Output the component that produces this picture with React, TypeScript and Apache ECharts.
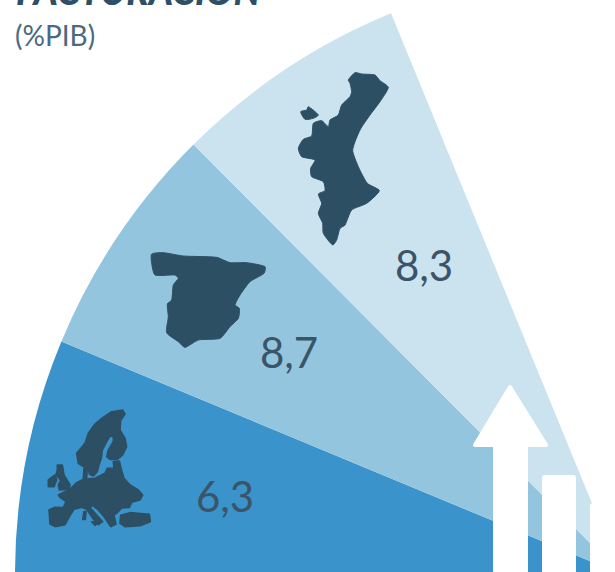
import React, { useEffect, useRef } from "react";
import * as echarts from "echarts";

const regions = ["Europa", "España", "Comunitat Valenciana"];
const valueLabels = ["6,3", "8,7", "8,3"];
const sectorWeights = [1, 1, 1];
const sectorColors = ["#3a93cb", "#93c5df", "#cbe3ef"];
const INK = "#2d4f63";

type Pts = number[][];
const fromZoom = (pts: Pts, ox: number, oy: number) => pts.map(([x, y]) => [ox + x / 3, oy + y / 3]);

const valencia: Pts[] = [
  [[205,60],[225,38],[245,42],[285,45],[300,62],[325,82],[300,125],[270,165],[240,210],[218,270],[235,320],[262,370],[298,392],[260,430],[215,450],[195,495],[180,505],[170,540],[158,555],[130,520],[128,490],[115,460],[125,430],[115,402],[135,392],[130,365],[95,350],[92,325],[105,300],[65,290],[55,265],[70,238],[95,228],[100,190],[125,182],[145,200],[150,180],[175,165],[185,135],[210,110],[215,95],[210,70]],
  [[62,155],[80,150],[85,140],[115,165],[100,175],[75,178]],
];
const spain: Pts[] = [
  [[35,42],[70,38],[130,48],[230,52],[270,68],[320,68],[375,80],[372,100],[330,125],[300,165],[285,195],[298,205],[295,235],[270,260],[240,295],[175,300],[135,322],[115,305],[80,278],[85,230],[82,192],[95,180],[100,135],[115,115],[105,105],[45,105],[35,70]],
];
const europe: Pts[] = [
  [[195,72],[215,55],[245,35],[278,30],[285,42],[272,62],[270,90],[285,115],[290,140],[278,165],[262,178],[240,178],[230,170],[235,150],[250,125],[250,110],[240,108],[230,125],[217,150],[214,175],[207,195],[202,215],[190,228],[178,222],[175,205],[160,200],[145,190],[140,160],[165,130],[175,100]],
  [[162,205],[172,205],[170,235],[160,235]],
  [[85,285],[120,268],[140,248],[160,238],[195,235],[225,220],[232,205],[252,205],[250,185],[268,183],[275,212],[282,235],[300,255],[325,270],[338,285],[330,300],[305,307],[298,322],[275,324],[262,338],[252,345],[258,372],[242,380],[230,362],[222,350],[205,330],[185,314],[182,325],[205,350],[218,365],[205,374],[192,360],[170,328],[155,322],[132,328],[120,347],[105,374],[75,380],[60,372],[57,330],[75,322],[100,323],[108,305],[90,292]],
  [[272,346],[300,338],[358,343],[361,365],[330,377],[285,380],[270,370]],
  [[82,195],[97,195],[102,225],[120,255],[118,268],[88,270],[85,255],[92,240],[78,225],[82,210]],
  [[55,240],[75,225],[80,240],[72,260],[55,260]],
  [[162,335],[168,335],[166,358],[158,358]],
  [[185,365],[205,368],[195,376]],
];

const mapElements = (polys: Pts[], ox: number, oy: number, smooth: number, lineWidth: number) =>
  polys.map((p) => ({
    type: "polygon",
    z: 100,
    silent: true,
    shape: { points: fromZoom(p, ox, oy), smooth },
    style: { fill: INK, stroke: INK, lineWidth, lineJoin: "round" },
  }));

const whiteShape = { fill: "#fff", stroke: "#fff", lineWidth: 4, lineJoin: "round" };

export default function App() {
  const ref = useRef<HTMLDivElement>(null);
  useEffect(() => {
    const chart = echarts.init(ref.current!, undefined, { renderer: "svg" });
    chart.setOption({
      animation: false,
      backgroundColor: "#fff",
      series: [
        {
          type: "pie",
          silent: true,
          center: [621, 574],
          radius: [0, 606],
          startAngle: 180,
          endAngle: 112.3,
          clockwise: true,
          avoidLabelOverlap: false,
          labelLine: { show: false },
          data: regions.map((name, i) => ({
            name,
            value: sectorWeights[i],
            itemStyle: { color: sectorColors[i] },
            label: {
              show: true,
              position: "inside",
              formatter: valueLabels[i],
              fontFamily: "Lato",
              fontSize: 42,
              color: "#3a5468",
            },
          })),
          labelLayout: (p: any) => ({
            x: [225, 289, 424][p.dataIndex],
            y: [496, 352, 265][p.dataIndex],
            align: "center",
            verticalAlign: "middle",
          }),
        },
      ],
      graphic: {
        elements: [
          {
            type: "text", z: 100, x: 16, y: 9, silent: true,
            style: { text: "FACTURACIÓN", fill: "#2d5068", font: "italic 900 37px Lato", textVerticalAlign: "bottom" },
          },
          {
            type: "text", z: 100, x: 15, y: 35, silent: true,
            style: { text: "(%PIB)", fill: "#4b6a80", font: "28px Lato", textVerticalAlign: "middle" },
          },
          ...mapElements(valencia, 280, 60, 0.2, 1),
          ...mapElements(spain, 140, 240, 0.2, 1),
          ...mapElements(europe, 30, 400, 0, 1.6),
          {
            type: "polygon", z: 110, silent: true,
            shape: { points: [[510, 387], [546, 445], [526, 445], [526, 580], [495, 580], [495, 445], [475, 445]] },
            style: whiteShape,
          },
          { type: "rect", z: 110, silent: true, shape: { x: 542, y: 475, width: 34, height: 110, r: 3 }, style: { fill: "#fff" } },
          { type: "rect", z: 110, silent: true, shape: { x: 590, y: 503, width: 40, height: 80, r: 3 }, style: { fill: "#fff" } },
        ],
      },
    });
    return () => chart.dispose();
  }, []);
  return <div ref={ref} style={{ position: "absolute", left: 0, top: 0, width: 615, height: 572 }} />;
}
